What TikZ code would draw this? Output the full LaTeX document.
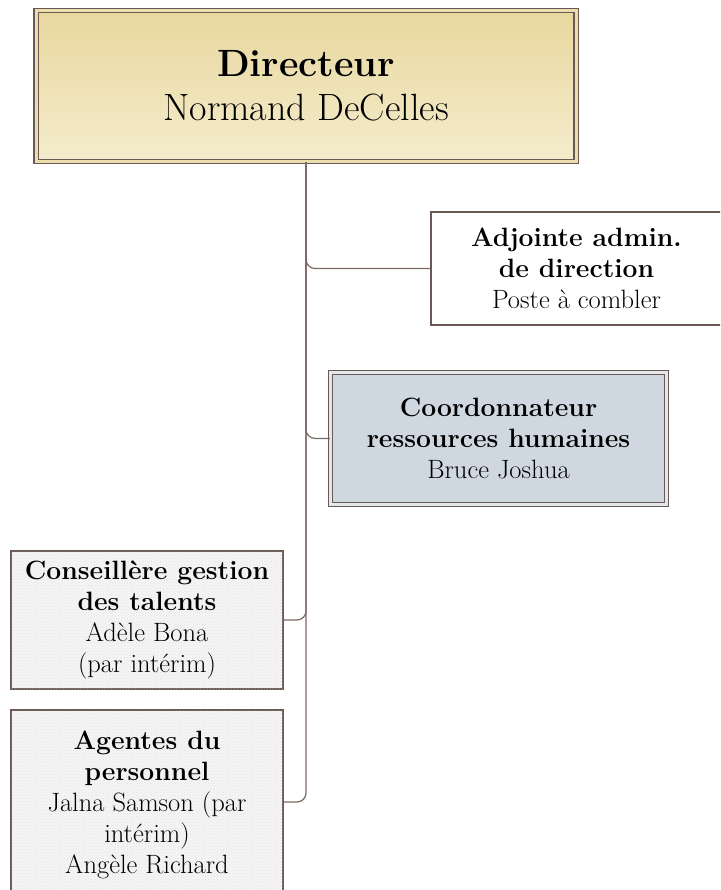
\documentclass[tikz,border=0pt]{standalone}
\usetikzlibrary{patterns}
\definecolor{linkc}{RGB}{125,105,100}
\definecolor{boxline}{RGB}{105,88,84}
\definecolor{tantop}{RGB}{232,215,158}
\definecolor{tanbot}{RGB}{244,236,204}
\definecolor{bluefill}{RGB}{207,216,224}
\begin{document}
\begin{tikzpicture}[x=1pt,y=-1pt,
    box/.style={draw=boxline, line width=1.4pt, align=center, inner sep=0pt,
      font=\fontsize{26.5}{31}\selectfont},
    dbox/.style={box, line width=1.1pt, double=#1, double distance=3pt},
    dotted fill/.style={fill=gray!8, postaction={pattern=crosshatch dots, pattern color=gray!22}},
    link/.style={draw=linkc, line width=1.2pt, rounded corners=9pt}]
    \newcommand{\lft}{147}
    \clip (0,0) rectangle (720,890);
    \useasboundingbox (0,0) rectangle (720,890);

    % director
    \node[dbox=tantop!70!tanbot, top color=tantop, bottom color=tanbot,
      minimum width=540, minimum height=151, font=\fontsize{38}{44}\selectfont]
      (dir) at (306,86) {\textbf{Directeur}\\Normand DeCelles};

    % staff
    \node[box, fill=white, minimum width=291, minimum height=113]
      (adj) at (576.5,268.5) {\textbf{Adjointe admin.}\\\textbf{de direction}\\Poste à combler};
    \node[dbox=bluefill!60!white, fill=bluefill, minimum width=336, minimum height=132]
      (rh) at (498.5,438.4) {\textbf{Coordonnateur}\\\textbf{ressources humaines}\\Bruce Joshua};
    \node[box, dotted fill, minimum width=272, minimum height=138]
      (tal) at (\lft,620) {\textbf{Conseillère gestion}\\\textbf{des talents}\\Adèle Bona\\(par intérim)};
    \node[box, dotted fill, minimum width=272, minimum height=184, text depth=0pt]
      (pers) at (\lft,802) {\textbf{Agentes du}\\\textbf{personnel}\\Jalna Samson (par\\intérim)\\Angèle Richard};

    % links
    \draw[link] (dir.south) |- (adj.west);
    \draw[link] (dir.south) |- (rh.west);
    \draw[link] (dir.south) |- (tal.east);
    \draw[link] (dir.south) |- (pers.east);
\end{tikzpicture}
\end{document}
